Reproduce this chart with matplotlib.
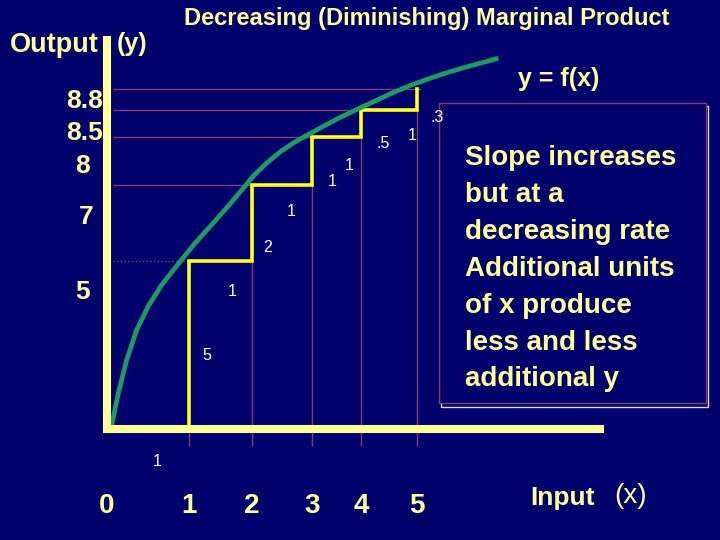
import numpy as np
import matplotlib
matplotlib.use("Agg")
import matplotlib.pyplot as plt
from matplotlib.patches import Rectangle

# data
inputs = [0, 1, 2, 3, 4, 5]
outputs = [0, 5, 7, 8, 8.5, 8.8]
x_tick_labels = ["0", "1", "2", "3", "4", "5"]
y_tick_labels = ["5", "7", "8", "8.5", "8.8"]
dx_labels = ["1", "1", "1", "1", "1"]
dy_labels = ["5", "2", "1", ".5", ".3"]
# green curve y = f(x)
curve_x = [0.049, 0.138, 0.240, 0.362, 0.504, 0.667, 0.890, 1.095, 1.413, 1.651, 1.837, 2.022, 2.245,
           2.467, 2.688, 2.938, 3.231, 3.571, 3.912, 4.220, 4.518, 4.875, 5.232, 5.589, 5.946, 6.452]
curve_y = [0.021, 1.063, 2.054, 2.946, 3.661, 4.286, 4.979, 5.466, 6.053, 6.5, 6.868, 7.188, 7.458,
           7.688, 7.875, 8.046, 8.198, 8.361, 8.507, 8.617, 8.729, 8.850, 8.953, 9.047, 9.129, 9.239]
note_lines = ["Slope increases", "but at a", "decreasing rate", "Additional units",
              "of x produce", "less and less", "additional y"]

# hand drawn spacing of the slide (pixels from the origin)
x_drawn = [0, 82, 145, 205, 254, 310]
y_drawn = [0, 168, 244, 292, 319, 340]

NAVY = "#02026C"
PALE = "#FFFF99"
STEP = "#FFFF22"
GUIDE = "#7E3F6E"
GREEN = "#1F9A62"
FONT = "Liberation Sans"

W, H = 720, 540


def piecewise(src, dst):
    src = np.asarray(src, float)
    dst = np.asarray(dst, float)

    def f(v):
        v = np.asarray(v, float)
        out = np.interp(v, src, dst)
        lo_slope = (dst[1] - dst[0]) / (src[1] - src[0])
        hi_slope = (dst[-1] - dst[-2]) / (src[-1] - src[-2])
        out = np.where(v < src[0], dst[0] + (v - src[0]) * lo_slope, out)
        out = np.where(v > src[-1], dst[-1] + (v - src[-1]) * hi_slope, out)
        return out
    return f


def px(x, y):
    return x / W, 1 - y / H


fig = plt.figure(figsize=(7.2, 5.4), dpi=100)
fig.patch.set_facecolor(NAVY)

# axes from the origin (107, 429) to the arrow ends (600, 40)
ax = fig.add_axes([107 / W, 1 - 429 / H, 493 / W, 389 / H])
ax.set_facecolor("none")
ax.set_xscale("function", functions=(piecewise(inputs, x_drawn), piecewise(x_drawn, inputs)))
ax.set_yscale("function", functions=(piecewise(outputs, y_drawn), piecewise(y_drawn, outputs)))
ax.set_xlim(0, piecewise(x_drawn, inputs)(493))
ax.set_ylim(0, piecewise(y_drawn, outputs)(389))

for s in ["top", "right"]:
    ax.spines[s].set_visible(False)
for s in ["left", "bottom"]:
    ax.spines[s].set_color(PALE)
    ax.spines[s].set_linewidth(5.8)
    ax.spines[s].set_zorder(5)

ax.set_yticks([])
ax.set_xticks(inputs)
ax.set_xticklabels(x_tick_labels)
ax.tick_params(axis="x", length=0, pad=46, labelcolor=PALE, labelsize=20)
for t in ax.get_xticklabels():
    t.set_fontfamily(FONT)
    t.set_fontweight("bold")

# guide lines
ax.vlines(inputs[1:], -0.5, outputs[1:], color=GUIDE, lw=1, clip_on=False, zorder=1)
for i in range(1, len(outputs)):
    ls = ":" if i == 1 else "-"
    ax.hlines(outputs[i], 0.07, inputs[i] + 0.08, color=GUIDE, lw=1, linestyles=ls, zorder=1)

# marginal product steps
step_x = np.repeat(inputs[1:], 2)
step_y = np.repeat(outputs, 2)[1:-1]
ax.plot(step_x, step_y, color=STEP, lw=2.6, zorder=3, solid_joinstyle="miter")

# production function
ax.plot(curve_x, curve_y, color=GREEN, lw=3.4, zorder=4, clip_on=False,
        solid_capstyle="butt", solid_joinstyle="round")

# increment labels
dx_pos = [(157, 462), (232, 292), (291, 212), (349, 165), (412, 136)]
dy_pos = [(207, 356), (268, 248), (332, 181), (383, 144), (437, 117)]
for lab, (x, y) in zip(dx_labels, dx_pos):
    fig.text(*px(x, y), lab, color="white", fontsize=11.5, family=FONT, ha="center", va="center")
for lab, (x, y) in zip(dy_labels, dy_pos):
    fig.text(*px(x, y), lab, color="white", fontsize=11.5, family=FONT, ha="center", va="center")

# y labels as typed on the slide
y_lab_pos = [(83, 292, "center"), (86, 217, "center"), (82, 166, "center"),
             (103, 133, "right"), (103, 101, "right")]
for lab, (x, y, ha) in zip(y_tick_labels, y_lab_pos):
    fig.text(*px(x, y), lab, color=PALE, fontsize=19, family=FONT, weight="bold", ha=ha, va="center")

# titles
fig.text(*px(427, 18), "Decreasing (Diminishing) Marginal Product", color=PALE, fontsize=17,
         family=FONT, weight="bold", ha="center", va="center")
fig.text(*px(54, 45), "Output", color=PALE, fontsize=19.5, family=FONT, weight="bold",
         ha="center", va="center")
fig.text(*px(132, 44), "(y)", color=PALE, fontsize=18, family=FONT, weight="bold",
         ha="center", va="center")
fig.text(*px(559, 79), "y = f(x)", color=PALE, fontsize=18, family=FONT, weight="bold",
         ha="center", va="center")
fig.text(*px(562, 498), "Input", color=PALE, fontsize=19, family=FONT, weight="bold",
         ha="center", va="center")
fig.text(*px(631, 496), "(x)", color=PALE, fontsize=20, family=FONT,
         ha="center", va="center")

# note box with its shadow edge
x0, y0 = px(441, 407)
x1, y1 = px(708, 106)
fig.patches.append(Rectangle((x0, y0), x1 - x0, y1 - y0, transform=fig.transFigure,
                             facecolor="none", edgecolor="#DDDDDD", lw=1, zorder=1))
x0, y0 = px(439, 403)
x1, y1 = px(706, 103)
fig.patches.append(Rectangle((x0, y0), x1 - x0, y1 - y0, transform=fig.transFigure,
                             facecolor=NAVY, edgecolor=GUIDE, lw=1, zorder=2))
for k, line in enumerate(note_lines):
    fig.text(*px(465, 158 + k * 36.9), line, color=PALE, fontsize=20, family=FONT,
             weight="bold", ha="left", va="center", zorder=3)

fig.savefig("out.png", dpi=100, facecolor=fig.get_facecolor())
